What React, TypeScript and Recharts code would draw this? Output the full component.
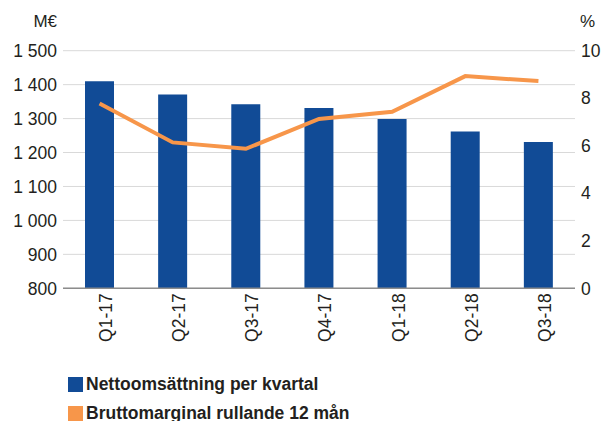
import React from 'react';
import { ComposedChart, Bar, Line, XAxis, YAxis, CartesianGrid, Legend } from 'recharts';

const quarters = ['Q1-17', 'Q2-17', 'Q3-17', 'Q4-17', 'Q1-18', 'Q2-18', 'Q3-18'];
const netSales = [1410, 1371, 1342, 1331, 1299, 1262, 1231];
const grossMargin = [7.78, 6.14, 5.87, 7.13, 7.43, 8.93, 8.72];
const leftTicks = [800, 900, 1000, 1100, 1200, 1300, 1400, 1500];
const rightTicks = [0, 2, 4, 6, 8, 10];
const seriesNames = ['Nettoomsättning per kvartal', 'Bruttomarginal rullande 12 mån'];

const BLUE = '#114b96';
const ORANGE = '#f7964a';
const FONT = '"Liberation Sans", Arial, sans-serif';
const TEXT = '#231f20';

const data = quarters.map((q, i) => ({ q, sales: netSales[i], margin: grossMargin[i] }));

const fmt = (v: number) => {
  const s = String(v);
  return s.length > 3 ? s.slice(0, s.length - 3) + ' ' + s.slice(s.length - 3) : s;
};

const LegendContent = () => (
  <div style={{ fontFamily: FONT, fontWeight: 'bold', fontSize: 17.5, color: TEXT, paddingLeft: 68 }}>
    {seriesNames.map((n, i) => (
      <div key={n} style={{ display: 'flex', alignItems: 'center', height: 29, marginTop: i === 0 ? 5 : 0 }}>
        <span style={{ display: 'inline-block', width: 15, height: 15, background: i === 0 ? BLUE : ORANGE, marginRight: 3 }} />
        <span style={{ lineHeight: '15px' }}>{n}</span>
      </div>
    ))}
  </div>
);

const LeftUnit = (props: any) => {
  const vb = props.viewBox || {};
  return (
    <text x={vb.x + vb.width - 6} y={vb.y - 24} textAnchor="end" fontFamily={FONT} fontSize={17} fill={TEXT}>
      M€
    </text>
  );
};

const RightUnit = (props: any) => {
  const vb = props.viewBox || {};
  return (
    <text x={vb.x + 5} y={vb.y - 24} textAnchor="start" fontFamily={FONT} fontSize={17} fill={TEXT}>
      %
    </text>
  );
};

export default function App() {
  return (
    <div style={{ position: 'absolute', left: 0, top: 0, width: 601, height: 421, background: '#fff' }}>
      <ComposedChart
        width={601}
        height={421}
        data={data}
        margin={{ top: 50.7, right: 0, bottom: 0, left: 0 }}
        barCategoryGap="30%"
      >
        <CartesianGrid vertical={false} stroke="#d9d9d9" yAxisId="left" />
        <XAxis
          dataKey="q"
          height={76.7}
          axisLine={{ stroke: '#8c8c8c', strokeWidth: 1.5 }}
          tickLine={false}
          tickSize={0}
          tickMargin={5}
          interval={0}
          tick={{ angle: -90, textAnchor: 'end', verticalAnchor: 'middle', fontFamily: FONT, fontSize: 17.5, fill: TEXT }}
        />
        <YAxis
          yAxisId="left"
          orientation="left"
          width={63}
          domain={[800, 1500]}
          ticks={leftTicks}
          tickFormatter={fmt}
          axisLine={false}
          tickLine={false}
          tickSize={0}
          tickMargin={6}
          tick={{ fontFamily: FONT, fontSize: 17.5, fill: TEXT }}
          label={{ content: LeftUnit }}
        />
        <YAxis
          yAxisId="right"
          orientation="right"
          width={26}
          domain={[0, 10]}
          ticks={rightTicks}
          axisLine={false}
          tickLine={false}
          tickSize={0}
          tickMargin={6}
          tick={{ fontFamily: FONT, fontSize: 17.5, fill: TEXT, textAnchor: 'start' }}
          label={{ content: RightUnit }}
        />
        <Bar yAxisId="left" dataKey="sales" name={seriesNames[0]} fill={BLUE} barSize={29} isAnimationActive={false} />
        <Line
          yAxisId="right"
          dataKey="margin"
          name={seriesNames[1]}
          stroke={ORANGE}
          strokeWidth={4}
          dot={false}
          activeDot={false}
          type="linear"
          isAnimationActive={false}
        />
        <Legend
          verticalAlign="bottom"
          align="left"
          height={56}
          wrapperStyle={{ left: 0 }}
          content={LegendContent}
        />
      </ComposedChart>
    </div>
  );
}
